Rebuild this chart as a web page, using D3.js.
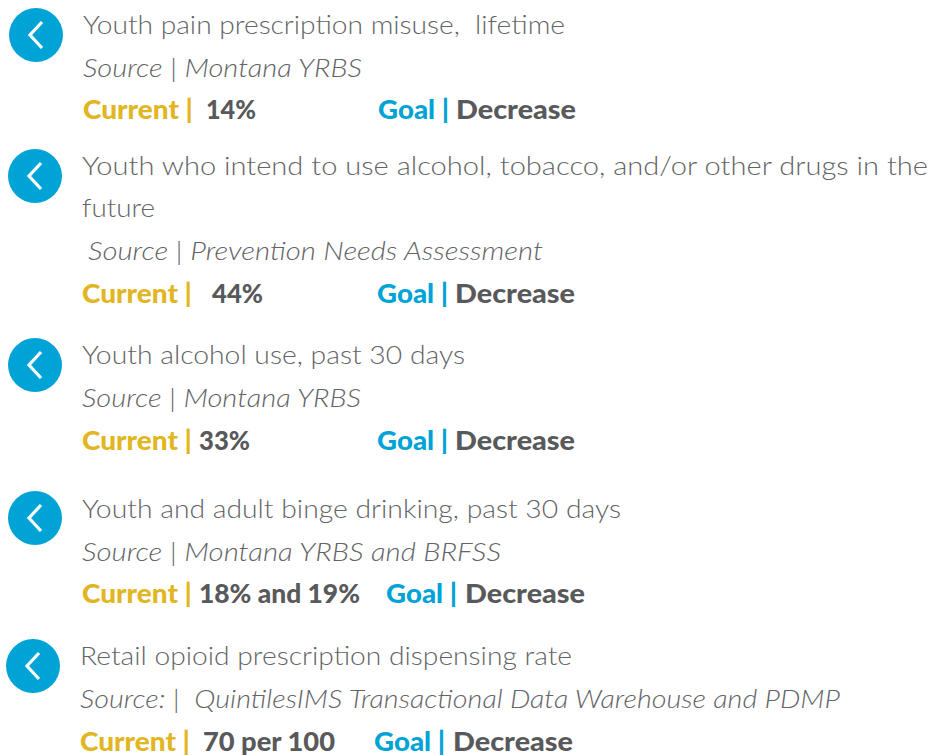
<!DOCTYPE html>
<html><head><meta charset="utf-8">
<script src="https://cdn.jsdelivr.net/npm/d3@7"></script>
<style>html,body{margin:0;padding:0;background:#fff}svg{display:block}
text{font-family:Lato,"Open Sans",sans-serif;white-space:pre}</style></head>
<body><svg id="c" width="945" height="755"></svg>
<script>
// content
const titles = [
  ["Youth pain prescription misuse,  lifetime"],
  ["Youth who intend to use alcohol, tobacco, and/or other drugs in the","future"],
  ["Youth alcohol use, past 30 days"],
  ["Youth and adult binge drinking, past 30 days"],
  ["Retail opioid prescription dispensing rate"]
];
const sources = [
  "Source | Montana YRBS",
  "Source | Prevention Needs Assessment",
  "Source | Montana YRBS",
  "Source | Montana YRBS and BRFSS",
  "Source: |  QuintilesIMS Transactional Data Warehouse and PDMP"
];
const currentValues = ["14%","44%","33%","18% and 19%","70 per 100"];
const goalValues = ["Decrease","Decrease","Decrease","Decrease","Decrease"];
const currentLabel = "Current |", goalLabel = "Goal |";

// layout (separate from content)
const circleX = [36,35,35,35,33], circleY = [35,176,365,518,666];
const textX = [83,82,82,82,80];
const titleY = [[34],[175,217],[364],[518],[665]];
const titleEnd = [[565],[928,155],[465],[621],[572]];
const sourceY = [77,260,407,561,708], sourceX = [83,88,82,82,80], sourceEnd = [362,543,361,501,840];
const currentY = [119,303,450,603,751];
const valueX = [206,212,199,199,203], valueEnd = [256,263,250,360,335];
const goalX = [378,377,377,386,374], goalEnd=[449,448,448,457,445];
const decX = [456,455,455,465,453], decEnd=[576,575,575,585,573];

const BLUE="#00a3d6", GOLD="#e2b522", LIGHT="#636466", DARK="#58595b";
const svg=d3.select("#c");
const idx=d3.range(titles.length);
function put(sel,x,y,end,txt){
  return sel.append("text").attr("x",x).attr("y",y).text(txt)
    .attr("textLength",end-x).attr("lengthAdjust","spacingAndGlyphs");
}
const row=svg.selectAll("g.row").data(idx).join("g").attr("class","row");
row.append("circle").attr("cx",i=>circleX[i]).attr("cy",i=>circleY[i]).attr("r",27).attr("fill",BLUE);
const chev=d3.line();
row.append("path").attr("d",i=>chev([[circleX[i]+6,circleY[i]-13],[circleX[i]-6,circleY[i]],[circleX[i]+6,circleY[i]+13]]))
  .attr("fill","none").attr("stroke","#fff").attr("stroke-width",3.2);
row.each(function(i){
  const g=d3.select(this);
  titles[i].forEach((t,k)=>{
    put(g,textX[i],titleY[i][k],titleEnd[i][k],t).attr("font-size",26).attr("font-weight",300).attr("fill",LIGHT);
  });
  put(g,sourceX[i],sourceY[i],sourceEnd[i],sources[i]).attr("font-size",26).attr("font-weight",300).attr("font-style","italic").attr("fill",LIGHT);
  put(g,textX[i],currentY[i],textX[i]+110,currentLabel).attr("font-size",26).attr("font-weight",900).attr("fill",GOLD);
  put(g,valueX[i],currentY[i],valueEnd[i],currentValues[i]).attr("font-size",26).attr("font-weight",900).attr("fill",DARK);
  put(g,goalX[i],currentY[i],goalEnd[i],goalLabel).attr("font-size",26).attr("font-weight",900).attr("fill",BLUE);
  put(g,decX[i],currentY[i],decEnd[i],goalValues[i]).attr("font-size",26).attr("font-weight",900).attr("fill",DARK);
});
</script></body></html>
